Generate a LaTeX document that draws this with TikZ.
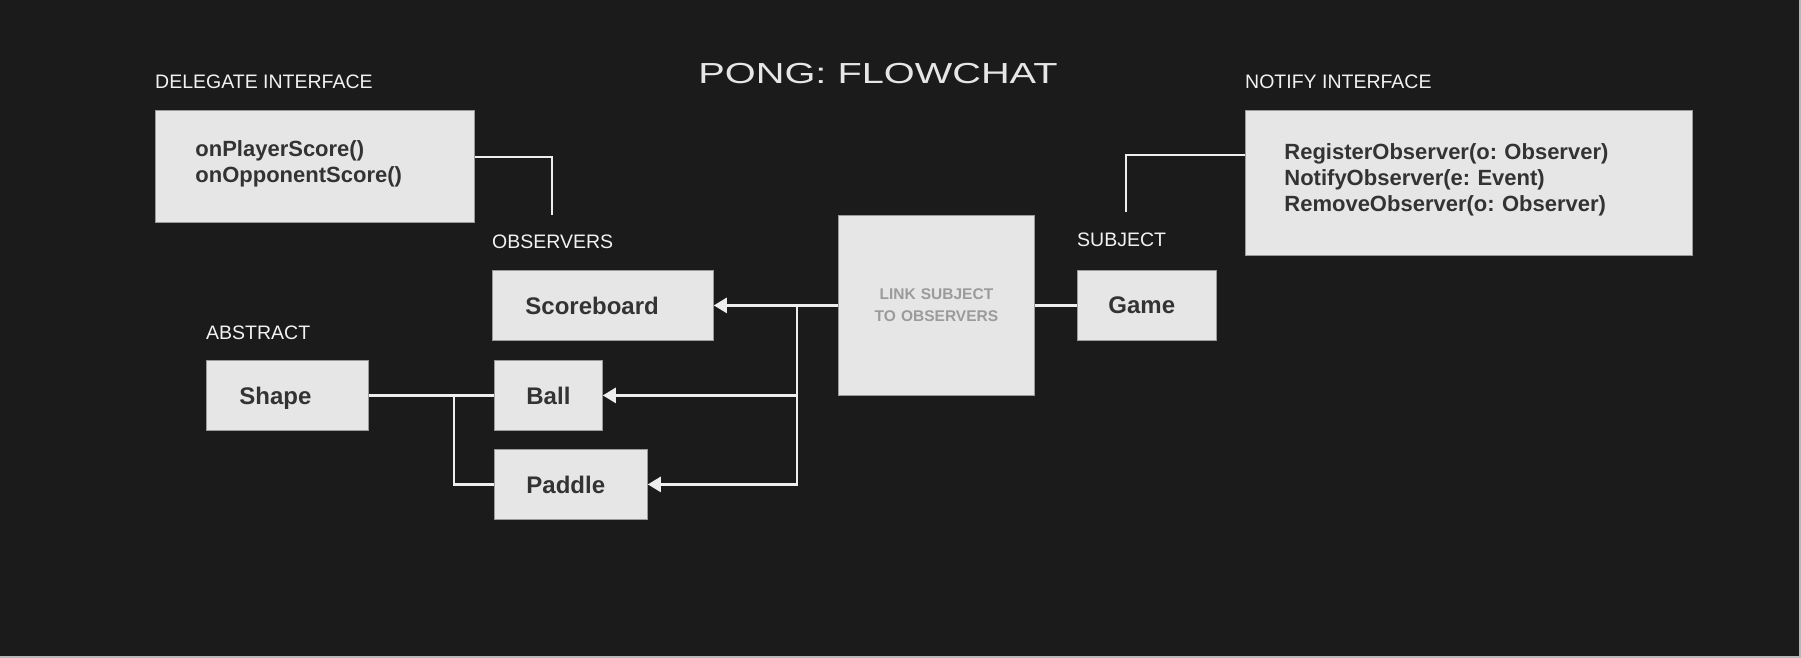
\documentclass[tikz,border=0pt]{standalone}
\usepackage{fontspec}
\setmainfont{Liberation Sans}
\newfontfamily\titlefont[FakeStretch=1.37]{Liberation Sans}
\usetikzlibrary{arrows.meta}
\frenchspacing

\definecolor{bg}{HTML}{1B1B1B}
\definecolor{boxfill}{HTML}{E6E6E6}
\definecolor{boxline}{HTML}{9A9A9A}
\definecolor{boxtext}{HTML}{333333}
\definecolor{tagtext}{HTML}{F2F2F2}
\definecolor{linktext}{HTML}{9B9B9B}
\definecolor{wirecol}{HTML}{EEEEEE}

\tikzset{
    box/.style={draw=boxline, fill=boxfill, line width=0.8pt, anchor=north west,
	inner ysep=0pt, align=left, text=boxtext,
	font=\bfseries\fontsize{24}{28}\selectfont},
    unit/.style={box, text depth=0pt, minimum height=70pt},
    methods/.style={box, font=\bfseries\fontsize{22}{26}\selectfont},
    tag/.style={anchor=base west, inner sep=0pt, text=tagtext,
	font=\fontsize{19.5}{22}\selectfont},
    wire/.style={draw=wirecol, line width=2.6pt},
    feed/.style={wire, -{Triangle[width=15pt,length=13pt]}}
}

\begin{document}
\begin{tikzpicture}[x=1pt, y=-1pt]
    \fill[bg] (0, 0) rectangle (1801, 658);
    \useasboundingbox (0, 0) rectangle (1801, 658);
    \draw[color=boxline!70!white, line width=1.5pt] (1800, 0) -- (1800, 657) -- (0, 657);

    \node (title) [anchor=base, inner sep=0pt, text=boxfill,
	font=\titlefont\fontsize{29}{32}\selectfont] at (878, 84) {PONG: FLOWCHAT};

    \node (delegatetag) [tag] at (155, 89) {DELEGATE INTERFACE};
    \node (notifytag) [tag] at (1245, 89) {NOTIFY INTERFACE};
    \node (observertag) [tag] at (492, 248) {OBSERVERS};
    \node (subjecttag) [tag] at (1077, 246) {SUBJECT};
    \node (abstracttag) [tag] at (206, 339) {ABSTRACT};

    \node (delegate) [methods, inner xsep=40pt, text width=239pt, text depth=35.5pt,
	minimum height=112pt] at (155, 110) {onPlayerScore()\\onOpponentScore()};
    \node (notify) [methods, inner xsep=39pt, text width=369pt, text depth=63.5pt,
	minimum height=145pt] at (1245, 110)
	{RegisterObserver(o: Observer)\\NotifyObserver(e: Event)\\RemoveObserver(o: Observer)};

    \node (link) [box, inner xsep=0pt, text width=196pt, minimum height=180pt,
	align=center, text=linktext, font=\bfseries\fontsize{15.5}{22}\selectfont]
	at (838, 215) {LINK SUBJECT\\TO OBSERVERS};
    \node (game) [unit, inner xsep=31pt, text width=77pt] at (1077, 270) {Game};
    \node (score) [unit, inner xsep=33pt, text width=155pt] at (492, 270) {Scoreboard};
    \node (shape) [unit, inner xsep=33pt, text width=96pt] at (206, 360) {Shape};
    \node (ball) [unit, inner xsep=32pt, text width=44pt] at (494, 360) {Ball};
    \node (paddle) [unit, inner xsep=32pt, text width=89pt] at (494, 449) {Paddle};

    \coordinate (observertop) at (552, 215);
    \coordinate (subjecttop) at (1126, 212);
    \coordinate (split) at (797, 305);
    \coordinate (fork) at (454, 395);

    \draw[wire] ([yshift=-47pt]delegate.north east) -| (observertop);
    \draw[wire] ([yshift=-45pt]notify.north west) -| (subjecttop);

    \draw[wire] (game.west) -- (link.east);
    \draw[feed] (link.west) -- (score.east);
    \draw[feed] (split) |- (ball.east);
    \draw[feed] (split) |- (paddle.east);

    \draw[wire] (shape.east) -- (ball.west);
    \draw[wire] (fork) |- (paddle.west);
\end{tikzpicture}
\end{document}
